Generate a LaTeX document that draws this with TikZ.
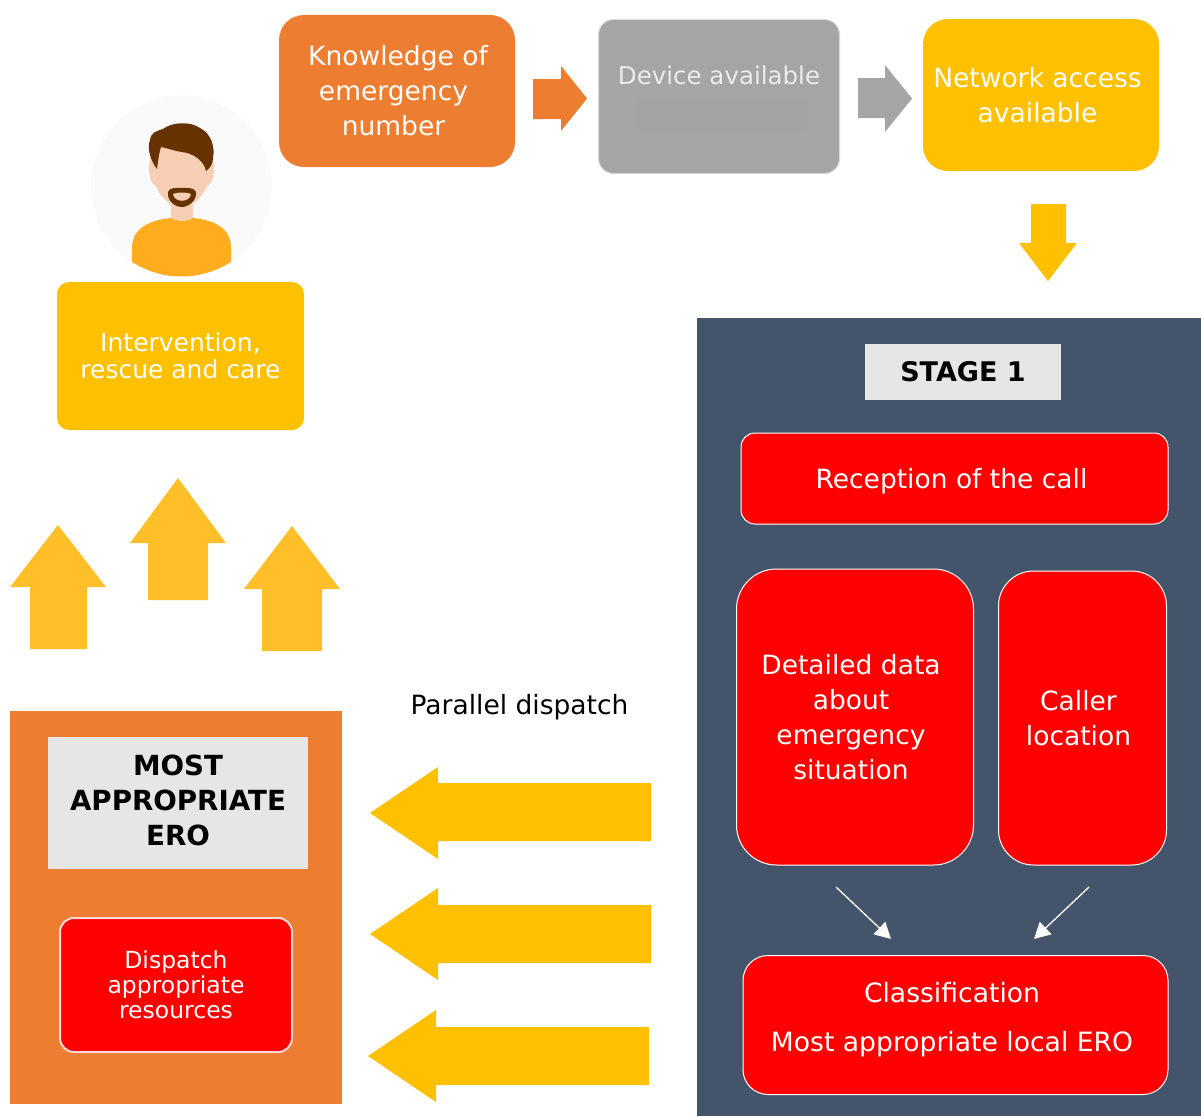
\documentclass[tikz,border=0pt]{standalone}
\usepackage{fontspec}
\setmainfont{DejaVu Sans}
\usetikzlibrary{arrows.meta}
\definecolor{orangeA}{HTML}{ED7D31}
\definecolor{goldA}{HTML}{FFC000}
\definecolor{goldB}{HTML}{FFBF29}
\definecolor{greyA}{HTML}{A5A5A5}
\definecolor{greyB}{HTML}{A4A4A4}
\definecolor{slateA}{HTML}{44546A}
\definecolor{labelA}{HTML}{E6E6E6}
\definecolor{hairA}{HTML}{663300}
\definecolor{skinA}{HTML}{F6CEB3}
\definecolor{shirtA}{HTML}{FFAC1F}
\tikzset{
  boxbase/.style={anchor=north west,inner sep=0pt,outer sep=0pt},
  redbox/.style={boxbase,fill=red,draw=white,line width=1pt},
  txt/.style={inner sep=0pt,align=center,text=white,font=\fontsize{26.5}{35}\selectfont},
  conn/.style={draw=white,line width=1.3pt,-{Triangle[length=16pt,width=17pt]}},
  labelbox/.style={boxbase,fill=labelA},
  txtb/.style={txt,text=black,font=\fontsize{27.7}{35}\selectfont\bfseries},
}
\begin{document}
\begin{tikzpicture}[x=1pt,y=-1pt]
\useasboundingbox (0,0) rectangle (1201,1116);
\fill[white] (0,0) rectangle (1201,1116);
% panels
\fill[slateA] (697,318) rectangle (1201,1116);
\fill[orangeA] (10,711) rectangle (342,1104);
% person
\fill[black!2] (181.5,186) circle (90.5);
\begin{scope}
\clip (181.5,186) circle (90.5);
\fill[skinA] (171,195) rectangle (193,226);
\fill[shirtA] (132,280) -- (132,248) .. controls (132,228) and (150,220) .. (171,218) .. controls (176,222) and (188,222) .. (193,218) .. controls (214,220) and (231,228) .. (231,248) -- (231,280) -- cycle;
\end{scope}
\fill[skinA] (149,165) .. controls (149,175) and (150,183) .. (156,186) .. controls (162,200) and (172,207) .. (181.5,207) .. controls (191,207) and (201,200) .. (207,186) .. controls (213,183) and (214,175) .. (214,165) -- (210,140) -- (155,140) -- cycle;
\fill[hairA] (157,169) .. controls (150,160) and (147,148) .. (150,140) .. controls (151,132) and (157,131) .. (163,129) .. controls (172,122) and (190,121) .. (200,128) .. controls (212,134) and (215,148) .. (213,158) .. controls (213,164) and (210,168) .. (206,171) .. controls (204,160) and (192,153) .. (182,152) .. controls (174,151) and (167,148) .. (161,147) .. controls (159,153) and (158,162) .. (157,169) -- cycle;
\fill[hairA] (168,192) .. controls (170,187) and (176,188) .. (182,188) .. controls (188,188) and (193,187) .. (196,192) .. controls (197,201) and (188,207) .. (182,207) .. controls (175,207) and (167,201) .. (168,192) -- cycle;
\fill[skinA] (173,194) .. controls (177,192) and (187,192) .. (191,194) .. controls (190,203) and (174,203) .. (173,194) -- cycle;
% block arrows
\fill[orangeA] (533,79) -- (561,79) -- (561,66) -- (587,98.5) -- (561,131) -- (561,119) -- (533,119) -- cycle;
\fill[greyA] (858,78) -- (885,78) -- (885,65) -- (912,98.5) -- (885,132) -- (885,118) -- (858,118) -- cycle;
\fill[goldA] (1031,204) -- (1066,204) -- (1066,243) -- (1077,243) -- (1048,281) -- (1019,243) -- (1031,243) -- cycle;
\fill[goldB] (30,649) -- (30,587) -- (10,587) -- (58,525) -- (106,587) -- (87,587) -- (87,649) -- cycle;
\fill[goldB] (148,600) -- (148,543) -- (130,543) -- (178,478) -- (226,543) -- (208,543) -- (208,600) -- cycle;
\fill[goldB] (262,651) -- (262,589) -- (244,589) -- (292,526) -- (340,589) -- (322,589) -- (322,651) -- cycle;
\fill[goldA] (651,783) -- (438,783) -- (438,767) -- (370,813) -- (438,859) -- (438,841) -- (651,841) -- cycle;
\fill[goldA] (651,905) -- (438,905) -- (438,888) -- (370,934) -- (438,980) -- (438,963) -- (651,963) -- cycle;
\fill[goldA] (649,1027) -- (436,1027) -- (436,1010) -- (368,1056) -- (436,1102) -- (436,1085) -- (649,1085) -- cycle;
% boxes
\node[boxbase,fill=orangeA,rounded corners=25pt,minimum width=236pt,minimum height=152pt,
  label={[txt,xshift=-3.5pt]center:{\hspace*{9pt}Knowledge of\\emergency\\number}}] (know) at (279,15) {};
\node[boxbase,fill=greyA,draw=black!15,line width=1pt,rounded corners=15pt,minimum width=241pt,minimum height=154pt] (device) at (598.5,19.5) {};
\fill[greyB] (636,98) rectangle (807,132);
\node[txt,text=white!92!black,font=\fontsize{24.5}{30}\selectfont] (devicetext) at (719,75) {Device available};
\node[boxbase,fill=goldA,rounded corners=25pt,minimum width=236pt,minimum height=152pt,
  label={[txt,xshift=-3.5pt]center:{Network access\\available}}] (net) at (923,19) {};
\node[boxbase,fill=goldA,rounded corners=12pt,minimum width=247pt,minimum height=148pt,
  label={[txt,font=\fontsize{25}{27}\selectfont]center:{Intervention,\\rescue and care}}] (interv) at (57,282) {};
\node[labelbox,minimum width=196pt,minimum height=56pt,
  label={[txtb,font=\fontsize{27}{35}\selectfont\bfseries]center:{STAGE 1}}] (stage) at (865,344) {};
\node[redbox,rounded corners=14pt,minimum width=427pt,minimum height=91pt,
  label={[txt,xshift=-3pt,yshift=-3pt]center:{Reception of the call}}] (recep) at (741,433) {};
\node[redbox,rounded corners=40pt,minimum width=237pt,minimum height=296pt,
  label={[txt,xshift=-4pt]center:{Detailed data\\about\\emergency\\situation}}] (detail) at (736.5,569) {};
\node[redbox,rounded corners=35pt,minimum width=168pt,minimum height=294pt,
  label={[txt,xshift=-4pt]center:{Caller\\location}}] (caller) at (998.5,571) {};
\node[redbox,rounded corners=25pt,minimum width=425pt,minimum height=139pt,
  label={[txt,font=\fontsize{26.6}{49}\selectfont,xshift=-3.5pt,yshift=5pt]center:{Classification\\Most appropriate local ERO}}] (class) at (743,955.5) {};
\node[labelbox,minimum width=260pt,minimum height=132pt,
  label={[txtb,yshift=3pt]center:{MOST\\APPROPRIATE\\ERO}}] (most) at (48,737) {};
\node[redbox,line width=2pt,draw=white!85!red,rounded corners=14pt,minimum width=232pt,minimum height=134pt,
  label={[txt,font=\fontsize{23.5}{25}\selectfont]center:{Dispatch\\appropriate\\resources}}] (disp) at (60,918) {};
\node[txt,text=black] (par) at (519.5,707) {Parallel dispatch};
% connectors
\coordinate (a1) at (836,887); \coordinate (a2) at (891,939);
\coordinate (b1) at (1089,887); \coordinate (b2) at (1034,939);
\draw[conn] (a1) -- (a2);
\draw[conn] (b1) -- (b2);
\end{tikzpicture}
\end{document}
